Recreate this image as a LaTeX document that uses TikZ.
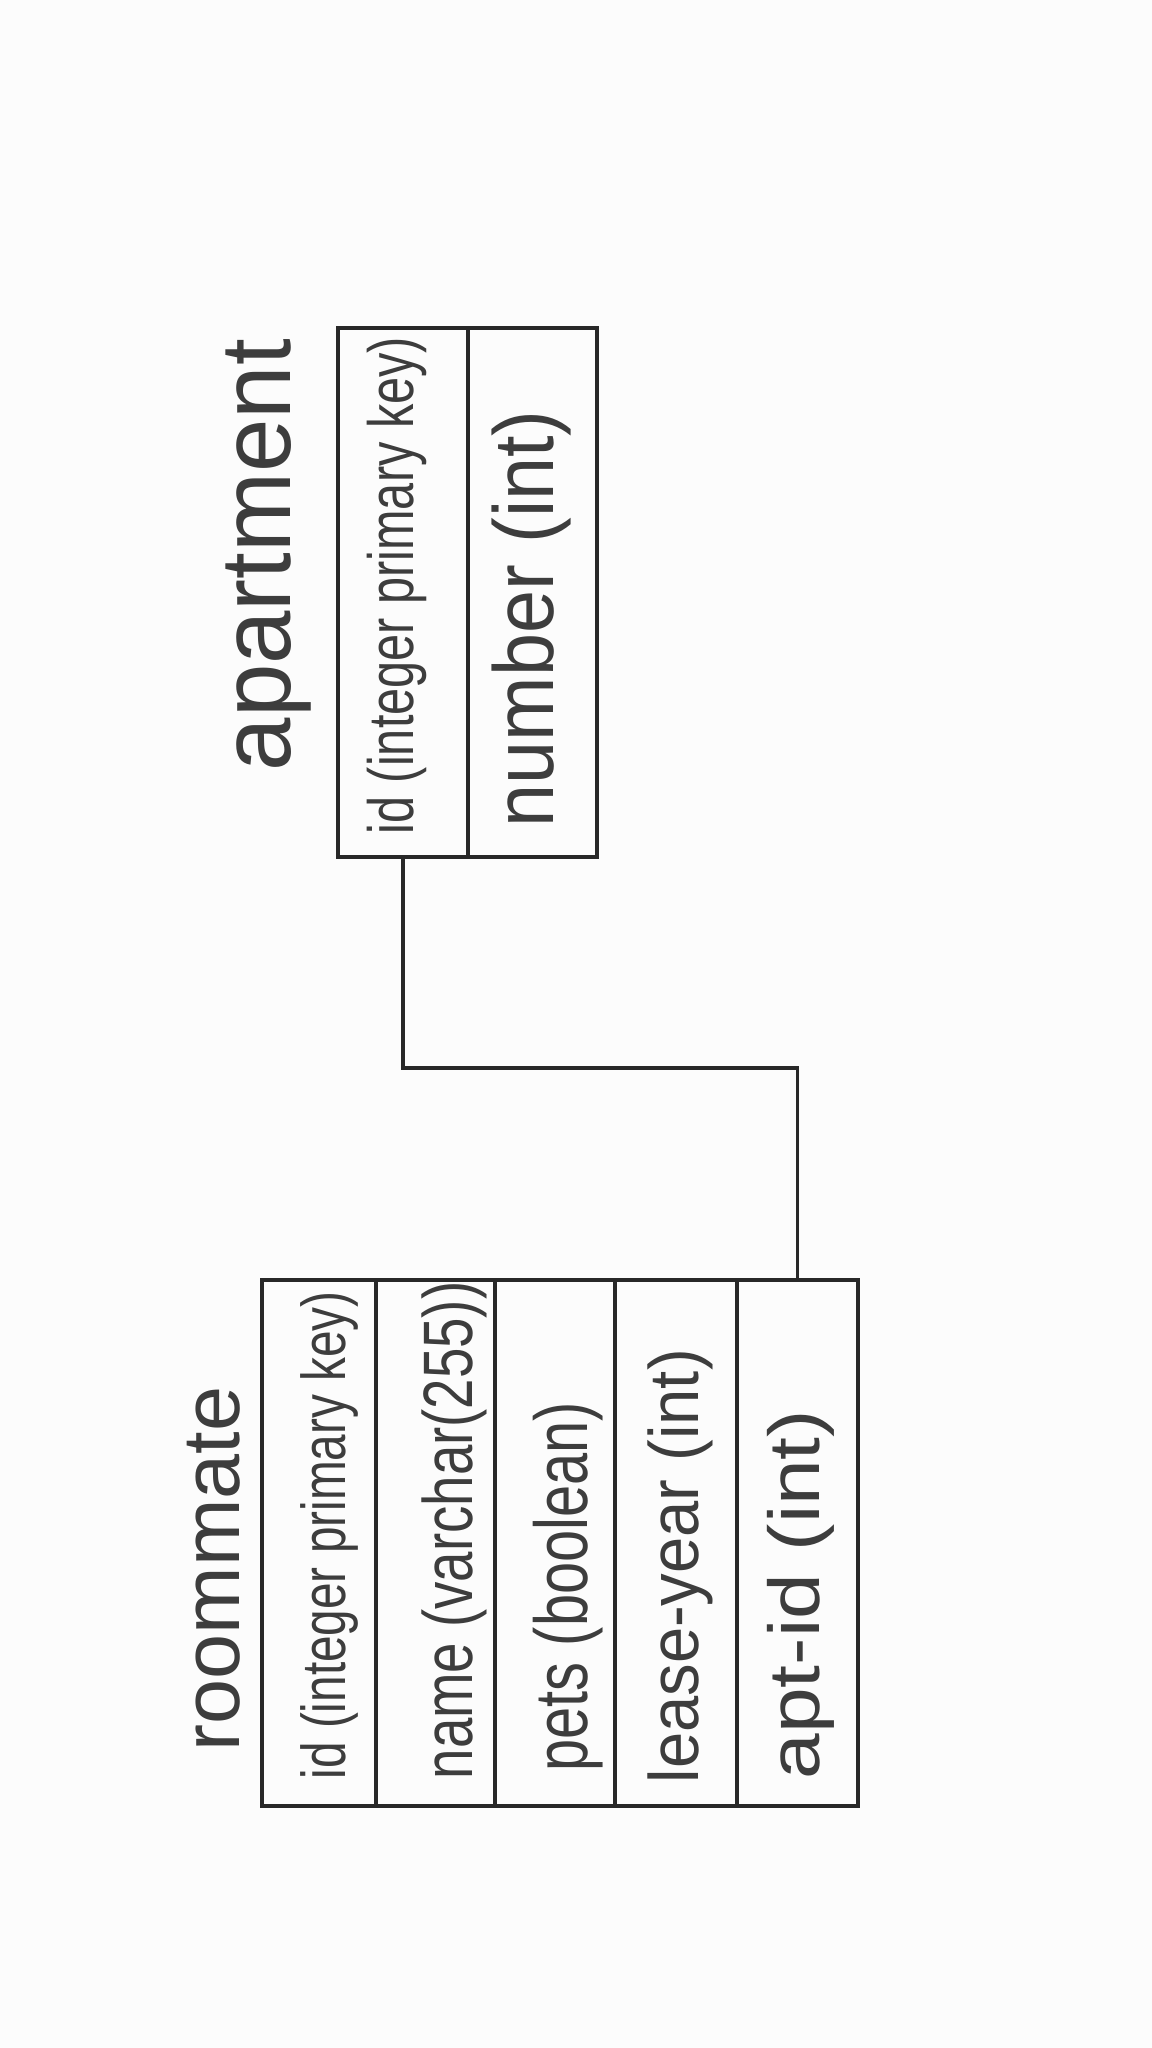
\documentclass[tikz,border=0pt]{standalone}
\usepackage{fontspec}
\setmainfont{Liberation Sans}
\usetikzlibrary{positioning}

\definecolor{ink}{RGB}{40,40,40}
\definecolor{paper}{RGB}{252,252,252}

% handwritten-ish label: size, squeeze, text
\newcommand{\hand}[3]{\fontsize{#1}{#1}\selectfont\scalebox{#2}[1]{#3}}

\begin{document}
\begin{tikzpicture}[
        cell/.style = {draw=ink, line width=0.9pt, rectangle, inner sep=0pt, outer sep=0pt, minimum width=#1},
        aptcell/.style = {cell=#1, minimum height=5.29cm},
        rmcell/.style = {cell=#1, minimum height=5.26cm},
        field/.style = {rotate=90, anchor=base west, inner sep=0pt, text=ink!90},
        link/.style = {draw=ink, line width=0.9pt}
    ]
    \fill[paper] (0,0) rectangle (11.52,-20.48);
    \useasboundingbox (0,0) rectangle (11.52,-20.48);

    % apartment table
    \node[aptcell=1.30cm] (aptid) at (4.03,-5.925) {};
    \node[aptcell=1.29cm, right=0pt of aptid] (aptnum) {};

    \node[field] (apttitle) at (2.90,-7.72) {\hand{1.0cm}{0.96}{apartment}};
    \node[field] (aptidtxt) at ([xshift=1.0mm, yshift=2.2mm]aptid.south) {\hand{0.64cm}{0.76}{id (integer primary key)}};
    \node[field] (aptnumtxt) at ([xshift=2.05mm, yshift=2.9mm]aptnum.south) {\hand{0.85cm}{0.91}{number (int)}};

    % roommate table
    \node[rmcell=1.14cm] (rmid) at (3.19,-15.43) {};
    \node[rmcell=1.19cm, right=0pt of rmid] (rmname) {};
    \node[rmcell=1.20cm, right=0pt of rmname] (rmpets) {};
    \node[rmcell=1.22cm, right=0pt of rmpets] (rmlease) {};
    \node[rmcell=1.21cm, right=0pt of rmlease] (rmapt) {};

    \node[field] (rmtitle) at (2.40,-17.52) {\hand{0.81cm}{1.0}{roommate}};
    \node[field] (rmidtxt) at ([xshift=2.6mm, yshift=2.6mm]rmid.south) {\hand{0.62cm}{0.77}{id (integer primary key)}};
    \node[field] (rmnametxt) at ([xshift=3.65mm, yshift=2.6mm]rmname.south) {\hand{0.70cm}{0.78}{name (varchar(255))}};
    \node[field] (rmpetstxt) at ([xshift=3.2mm, yshift=3.4mm]rmpets.south) {\hand{0.75cm}{0.77}{pets (boolean)}};
    \node[field] (rmleasetxt) at ([xshift=2.2mm, yshift=2.2mm]rmlease.south) {\hand{0.70cm}{0.93}{lease-year (int)}};
    \node[field] (rmapttxt) at ([xshift=2.2mm, yshift=2.6mm]rmapt.south) {\hand{0.72cm}{1.14}{apt-id (int)}};

    % relation
    \draw[link] (aptid.south) -- ++(0,-2.11) -| (rmapt.north);
\end{tikzpicture}
\end{document}
